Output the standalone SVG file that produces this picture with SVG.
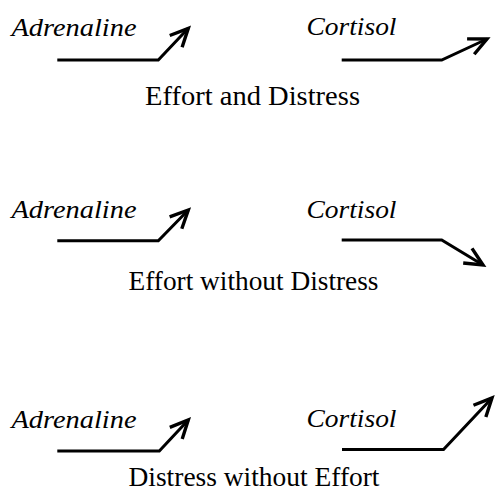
<svg xmlns="http://www.w3.org/2000/svg" width="496" height="491" viewBox="0 0 496 491">
  <style>
    .hormone { font-family: "Liberation Serif", "Times New Roman", serif; font-style: italic; font-size: 25px; fill: #000; }
    .caption { font-family: "Liberation Serif", "Times New Roman", serif; font-size: 27px; fill: #000; }
    .trend { fill: none; stroke: #000; stroke-width: 3; stroke-linejoin: miter; marker-end: url(#chevron); }
  </style>
  <defs>
    <!-- open two-barb arrowhead -->
    <marker id="chevron" markerUnits="userSpaceOnUse" viewBox="-22 -12 26 24" refX="0" refY="0" markerWidth="26" markerHeight="24" orient="auto" overflow="visible">
      <path d="M-18,-8.5 L0,0 L-18,8.5" fill="none" stroke="#000" stroke-width="3.4" stroke-linejoin="miter"/>
    </marker>
  </defs>
  <rect width="496" height="491" fill="#fff"/>

  <!-- Panel 1: Effort and Distress -->
  <g id="panel-effort-distress">
    <g id="adrenaline-1"><text class="hormone" x="11.5" y="35.5" textLength="125" lengthAdjust="spacingAndGlyphs">Adrenaline</text></g>
    <g id="cortisol-1"><text class="hormone" x="306.5" y="35" textLength="90" lengthAdjust="spacingAndGlyphs">Cortisol</text></g>
    <g id="caption-1"><text class="caption" x="145" y="105" textLength="215" lengthAdjust="spacingAndGlyphs">Effort and Distress</text></g>
  </g>

  <!-- Panel 2: Effort without Distress -->
  <g id="panel-effort-no-distress">
    <g id="adrenaline-2"><text class="hormone" x="11.5" y="218.3" textLength="125" lengthAdjust="spacingAndGlyphs">Adrenaline</text></g>
    <g id="cortisol-2"><text class="hormone" x="306.5" y="218.3" textLength="90" lengthAdjust="spacingAndGlyphs">Cortisol</text></g>
    <g id="caption-2"><text class="caption" x="128.5" y="290" textLength="250" lengthAdjust="spacingAndGlyphs">Effort without Distress</text></g>
  </g>

  <!-- Panel 3: Distress without Effort -->
  <g id="panel-distress-no-effort">
    <g id="adrenaline-3"><text class="hormone" x="11.5" y="427.5" textLength="125" lengthAdjust="spacingAndGlyphs">Adrenaline</text></g>
    <g id="cortisol-3"><text class="hormone" x="306.5" y="426.7" textLength="90" lengthAdjust="spacingAndGlyphs">Cortisol</text></g>
    <g id="caption-3"><text class="caption" x="128.5" y="485.5" textLength="251" lengthAdjust="spacingAndGlyphs">Distress without Effort</text></g>
  </g>

  <!-- Trend arrows -->
  <g id="connectors">
    <polyline class="trend" points="57.3,60 158.3,60 188.3,28.3"/>
    <polyline class="trend" points="341.7,60 441.7,60 487,39"/>
    <polyline class="trend" points="57.3,240.7 158.3,240.7 188.3,210"/>
    <polyline class="trend" points="341.7,240 441.7,240 483,265"/>
    <polyline class="trend" points="57.3,451 159.3,451 188.3,420"/>
    <polyline class="trend" points="342,449.5 443.5,449.5 492,398"/>
  </g>
</svg>
